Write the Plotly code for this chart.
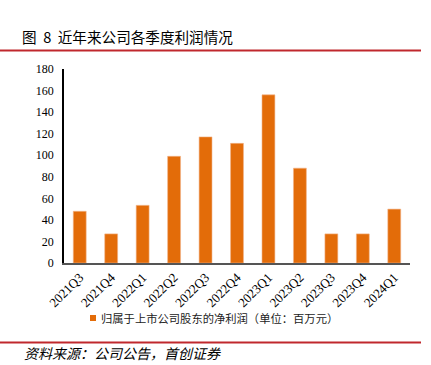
import plotly.graph_objects as go

categories = ["2021Q3", "2021Q4", "2022Q1", "2022Q2", "2022Q3", "2022Q4",
              "2023Q1", "2023Q2", "2023Q3", "2023Q4", "2024Q1"]
profit = [48, 27, 53.5, 99, 117, 111, 156, 88, 27, 27, 50]
y_ticks = list(range(0, 181, 20))
series_name = "归属于上市公司股东的净利润（单位：百万元）"
title_text = "图  8  近年来公司各季度利润情况"
source_text = "资料来源：公司公告，首创证券"

cjk = "Noto Sans CJK SC"
serif = "Liberation Serif"
orange = "#E36C09"

L, R, T, B = 64, 410, 69, 263
W, H = R - L, B - T


def px(x):
    return (x - L) / W


def py(y):
    return (B - y) / H


fig = go.Figure()
fig.add_trace(go.Bar(
    x=categories, y=profit, name=series_name,
    marker=dict(color=orange, line=dict(color="#F2B48A", width=0.6)),
    showlegend=False,
))

fig.update_layout(
    width=431, height=365,
    margin=dict(l=L, r=431 - R, t=T, b=365 - B, autoexpand=False),
    paper_bgcolor="white", plot_bgcolor="white",
    bargap=0.59,
    showlegend=False,
    xaxis=dict(type="category", tickangle=-45, showline=True, linecolor="#555",
               linewidth=1.5, ticks="", showgrid=False, automargin=False,
               tickfont=dict(family=serif, size=13, color="black")),
    yaxis=dict(range=[0, 180], tickvals=y_ticks, showline=True, linecolor="black",
               linewidth=1.5, ticks="", showgrid=False, zeroline=False, automargin=False,
               ticklabelstandoff=6,
               tickfont=dict(family=serif, size=12, color="black")),
    shapes=[
        dict(type="line", xref="paper", yref="paper", x0=px(0), x1=px(421),
             y0=py(50.5), y1=py(50.5), line=dict(color="#C0282D", width=2)),
        dict(type="line", xref="paper", yref="paper", x0=px(0), x1=px(421),
             y0=py(342.5), y1=py(342.5), line=dict(color="#C0282D", width=2)),
        dict(type="rect", xref="paper", yref="paper", x0=px(90), x1=px(96),
             y0=py(321), y1=py(315), fillcolor=orange, line=dict(width=0)),
    ],
    annotations=[
        dict(text=title_text, xref="paper", yref="paper", x=px(20), xanchor="left",
             y=py(37), yanchor="middle", showarrow=False,
             font=dict(family=cjk, size=14.6, color="black")),
        dict(text=series_name, xref="paper", yref="paper", x=px(99), xanchor="left",
             y=py(318), yanchor="middle", showarrow=False,
             font=dict(family=cjk, size=11.3, color="#222")),
        dict(text="<i>" + source_text + "</i>", xref="paper", yref="paper",
             x=px(22), xanchor="left", y=py(353), yanchor="middle",
             showarrow=False, font=dict(family=cjk, size=14, color="black")),
    ],
)

fig.write_html("out.html", config={"displayModeBar": False},
               post_script="document.body.style.margin='0';document.body.style.overflow='hidden';")
